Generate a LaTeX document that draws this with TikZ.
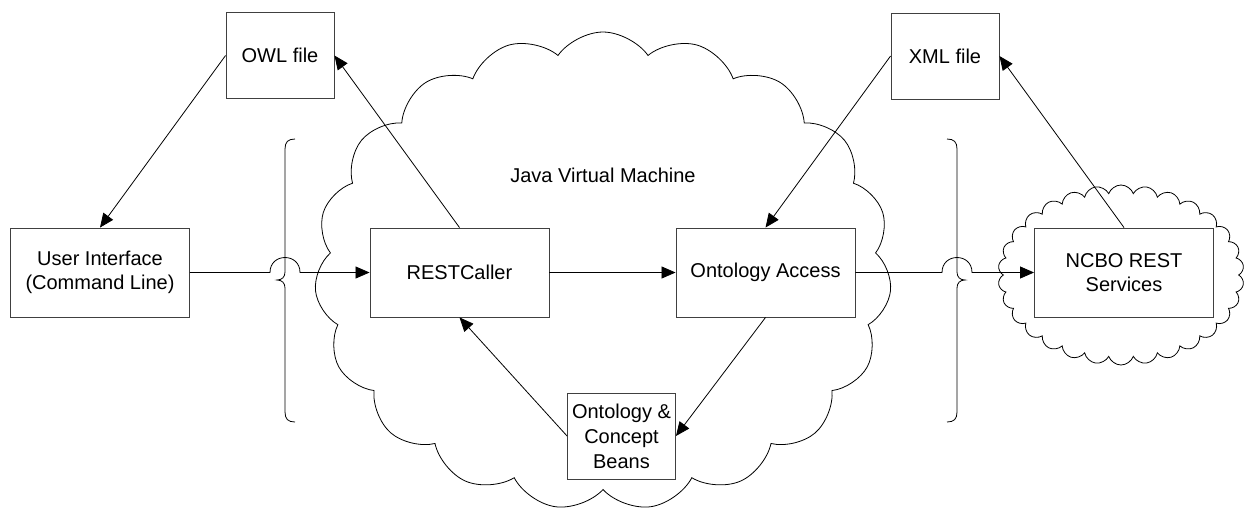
\documentclass[tikz,border=0pt]{standalone}
\usepackage{fontspec}
\setmainfont{Liberation Sans}
\usetikzlibrary{arrows.meta,shapes.symbols}

\tikzset{
  box/.style={draw=black!75, line width=0.9pt, fill=white, align=center,
    minimum width=179pt, minimum height=89pt, inner sep=2pt,
    font=\fontsize{20}{24}\selectfont},
  filebox/.style={box, minimum width=108pt, minimum height=86pt},
  puffy/.style={cloud, draw, line width=0.8pt, cloud ignores aspect, inner sep=0pt},
  conn/.style={-{Triangle[length=14pt,width=12pt]}, line width=0.8pt},
  curly/.style={line width=0.8pt}
}

\begin{document}
\begin{tikzpicture}[x=1pt,y=-1pt]
	\useasboundingbox (0,0) rectangle (1244,512);

	% draw the clouds
	\node[puffy, cloud puffs=19, cloud puff arc=110,
		minimum width=577pt, minimum height=478pt] (jvm) at (603,271) {};
	\node[puffy, cloud puffs=30, cloud puff arc=140,
		minimum width=246pt, minimum height=180pt] (web) at (1121,275) {};
	\node[font=\fontsize{20}{24}\selectfont] (jvmname) at (603,175) {Java Virtual Machine};

	% draw the boxes
	\node[box] (ui) at (100,272.5) {User Interface\\(Command Line)};
	\node[box] (rest) at (459.5,272.5) {RESTCaller};
	\node[box] (oa) at (765.5,272.5) {Ontology Access};
	\node[box] (ncbo) at (1124,272.5) {NCBO REST\\Services};
	\node[filebox] (owl) at (280,55.5) {OWL file};
	\node[filebox] (xml) at (945,56) {XML file};
	\node[filebox, font=\fontsize{20}{25}\selectfont] (beans) at (621.5,436) {Ontology \&\\Concept\\Beans};

	% draw the two braces
	\foreach \x/\s in {285/1,957/-1}
		\draw[curly] ({\x+10*(\s)},139) .. controls ({\x+3*(\s)},139) and (\x,142) .. (\x,149)
			-- (\x,272) .. controls (\x,277) and ({\x-3*(\s)},280) .. ({\x-8*(\s)},280)
			.. controls ({\x-3*(\s)},280) and (\x,283) .. (\x,288)
			-- (\x,412) .. controls (\x,419) and ({\x+3*(\s)},422) .. ({\x+10*(\s)},422);

	% the connectors that jump over the braces
	\coordinate (hopl) at (285,272.5);
	\coordinate (hopr) at (957,272.5);
	\draw[conn] (ui.east) -- ([xshift=-15pt]hopl) .. controls +(0,-20) and +(0,-20) .. ([xshift=15pt]hopl) -- (rest.west);
	\draw[conn] (oa.east) -- ([xshift=-15pt]hopr) .. controls +(0,-20) and +(0,-20) .. ([xshift=15pt]hopr) -- (ncbo.west);

	% the other connectors
	\foreach \a/\b in {rest.north/owl.east, owl.west/ui.north, rest.east/oa.west,
		xml.west/oa.north, ncbo.north/xml.east, oa.south/beans.east, beans.west/rest.south}
		\draw[conn] (\a) -- (\b);
\end{tikzpicture}
\end{document}
